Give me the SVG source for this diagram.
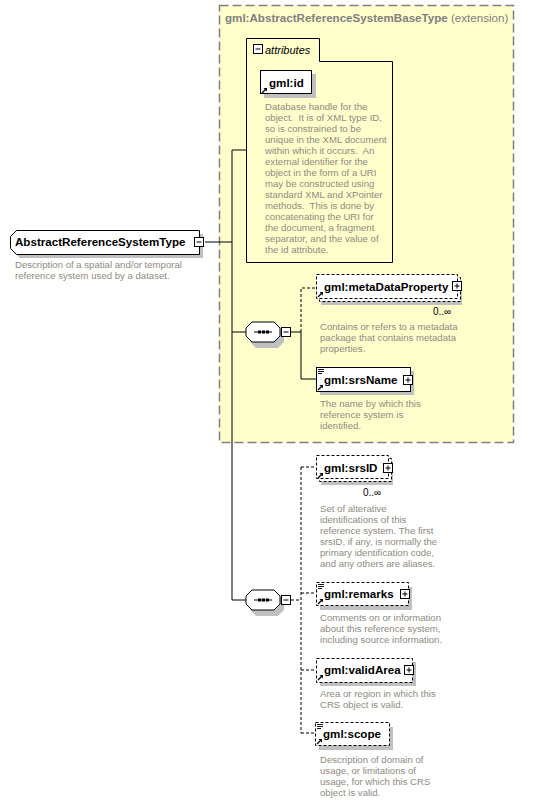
<svg xmlns="http://www.w3.org/2000/svg" width="555" height="802" viewBox="0 0 555 802">
<defs>
<style>
.t{font-family:"Liberation Sans",Arial,sans-serif;font-size:11.6px;font-weight:bold;fill:#000}
.d{font-family:"Liberation Sans",Arial,sans-serif;font-size:9.6px;fill:#8f8a80;white-space:pre}
.m{font-family:"Liberation Sans",Arial,sans-serif;font-size:10px;fill:#000}
.sh{fill:#c0c0c0;stroke:none}
.box{fill:#fff;stroke:#000;stroke-width:1}
.opt{fill:#fff;stroke:#000;stroke-width:1;stroke-dasharray:3,2}
.ln{stroke:#000;stroke-width:1;fill:none}
.dl{stroke:#000;stroke-width:1;fill:none;stroke-dasharray:3,2}
.pm{fill:#fff;stroke:#000;stroke-width:1}
</style>
<g id="plus"><rect class="pm" x="0.5" y="0.5" width="9" height="9"/><path d="M2.5 5H7.5M5 2.5V7.5" stroke="#000" stroke-width="1"/></g>
<g id="minus"><rect class="pm" x="0.5" y="0.5" width="9" height="9"/><path d="M2.5 5H7.5" stroke="#000" stroke-width="1"/></g>
<g id="ref"><path d="M0 6L4 2" stroke="#000" stroke-width="1.3"/><path d="M1.5 1H5V4.5Z" fill="#000"/></g>
<g id="lines"><path d="M0 0.5H6M0 2.5H6M0 4.5H4" stroke="#000" stroke-width="0.9"/></g>
<g id="seq">
<polygon class="sh" points="4,11 10,5 32,5 38,11 38,20 32,26 10,26 4,20"/>
<polygon class="box" points="0,6 6,0 28,0 34,6 34,14 28,20 6,20 0,14"/>
<path d="M8 10H26" stroke="#000" stroke-width="1"/>
<rect x="12" y="8.5" width="3" height="3" fill="#000"/><rect x="16" y="8.5" width="3" height="3" fill="#000"/><rect x="20" y="8.5" width="3" height="3" fill="#000"/>
</g>
</defs>
<rect width="555" height="802" fill="#fff"/>

<g id="extension">
<rect x="219.5" y="5.5" width="294" height="437" fill="#ffffcc" stroke="#808080" stroke-width="1.5" stroke-dasharray="9,4"/>
<text x="225" y="22" class="t" style="fill:#808080">gml:AbstractReferenceSystemBaseType <tspan style="font-weight:normal">(extension)</tspan></text>
</g>

<g id="connectors">
<path class="ln" d="M205 242H232M232 150V600M232 150H246M232 332H246M232 600H246"/>
<path class="ln" d="M291 332H301V379H316"/>
<path class="dl" d="M301 332V288H316"/>
<path class="dl" d="M291 600H301M301 467V733M301 467H316M301 593H316M301 670H316M301 733H316"/>
</g>

<g id="main">
<polygon class="sh" points="14,240 20,234 203,234 203,258 20,258 14,252"/>
<polygon class="box" points="10.5,236.5 16.5,230.5 199.5,230.5 199.5,254.5 16.5,254.5 10.5,248.5"/>
<text x="15" y="246" class="t">AbstractReferenceSystemType</text>
<use href="#minus" x="194" y="237"/>
<text x="15" y="268" class="d">Description of a spatial and/or temporal</text>
<text x="15" y="279" class="d">reference system used by a dataset.</text>
</g>

<g id="attributes">
<path d="M246.5 38.5H319.5V61.5H392.5V262.5H246.5Z" fill="none" stroke="#000" stroke-width="1"/>
<use href="#minus" x="253" y="44"/>
<text x="265" y="54" style="font-family:'Liberation Sans',Arial,sans-serif;font-size:11px;font-style:italic">attributes</text>
</g>

<g id="gml_id">
<rect class="sh" x="264" y="74" width="52" height="24"/>
<rect class="box" x="260.5" y="70.5" width="51" height="23"/>
<text x="269" y="87" class="t">gml:id</text>
<use href="#ref" x="262" y="87"/>
<text class="d"><tspan x="265" y="110">Database handle for the</tspan><tspan x="265" y="121">object.  It is of XML type ID,</tspan><tspan x="265" y="132">so is constrained to be</tspan><tspan x="265" y="143">unique in the XML document</tspan><tspan x="265" y="154">within which it occurs.  An</tspan><tspan x="265" y="165">external identifier for the</tspan><tspan x="265" y="176">object in the form of a URI</tspan><tspan x="265" y="187">may be constructed using</tspan><tspan x="265" y="198">standard XML and XPointer</tspan><tspan x="265" y="209">methods.  This is done by</tspan><tspan x="265" y="220">concatenating the URI for</tspan><tspan x="265" y="231">the document, a fragment</tspan><tspan x="265" y="242">separator, and the value of</tspan><tspan x="265" y="253">the id attribute.</tspan></text>
</g>

<g id="seq1">
<use href="#seq" x="246" y="322"/>
<use href="#minus" x="281" y="327"/>
</g>

<g id="metaDataProperty">
<rect class="sh" x="321" y="280" width="141" height="25"/>
<rect class="opt" x="319.5" y="277.5" width="141" height="24"/>
<rect class="opt" x="316.5" y="274.5" width="141" height="24"/>
<text x="324" y="291" class="t">gml:metaDataProperty</text>
<use href="#ref" x="318" y="291"/>
<use href="#plus" x="452" y="281"/>
<text x="433" y="315" class="m">0..∞</text>
<text class="d"><tspan x="320" y="330">Contains or refers to a metadata</tspan><tspan x="320" y="341">package that contains metadata</tspan><tspan x="320" y="352">properties.</tspan></text>
</g>

<g id="srsName">
<rect class="sh" x="320" y="371" width="94" height="24"/>
<rect class="box" x="316.5" y="367.5" width="94" height="24"/>
<use href="#lines" x="318" y="369"/>
<text x="324" y="384" class="t">gml:srsName</text>
<use href="#ref" x="318" y="384"/>
<use href="#plus" x="403" y="375"/>
<text class="d"><tspan x="320" y="407">The name by which this</tspan><tspan x="320" y="418">reference system is</tspan><tspan x="320" y="429">identified.</tspan></text>
</g>

<g id="seq2">
<use href="#seq" x="246" y="590"/>
<use href="#minus" x="281" y="595"/>
</g>

<g id="srsID">
<rect class="sh" x="321" y="461" width="72" height="24"/>
<rect class="opt" x="319.5" y="458.5" width="72" height="23"/>
<rect class="opt" x="316.5" y="455.5" width="72" height="23"/>
<text x="324" y="472" class="t">gml:srsID</text>
<use href="#ref" x="318" y="472"/>
<use href="#plus" x="383" y="463"/>
<text x="363" y="496" class="m">0..∞</text>
<text class="d"><tspan x="320" y="512">Set of alterative</tspan><tspan x="320" y="523">identifications of this</tspan><tspan x="320" y="534">reference system. The first</tspan><tspan x="320" y="545">srsID, if any, is normally the</tspan><tspan x="320" y="556">primary identification code,</tspan><tspan x="320" y="567">and any others are aliases.</tspan></text>
</g>

<g id="remarks">
<rect class="sh" x="320" y="587" width="92" height="23"/>
<rect class="opt" x="316.5" y="582.5" width="92" height="23"/>
<use href="#lines" x="318" y="584"/>
<text x="324" y="598" class="t">gml:remarks</text>
<use href="#ref" x="318" y="598"/>
<use href="#plus" x="400" y="589"/>
<text class="d"><tspan x="320" y="621">Comments on or information</tspan><tspan x="320" y="632">about this reference system,</tspan><tspan x="320" y="643">including source information.</tspan></text>
</g>

<g id="validArea">
<rect class="sh" x="320" y="662" width="96" height="24"/>
<rect class="opt" x="316.5" y="658.5" width="96" height="24"/>
<text x="324" y="674" class="t">gml:validArea</text>
<use href="#ref" x="318" y="674"/>
<use href="#plus" x="404" y="665"/>
<text class="d"><tspan x="320" y="697">Area or region in which this</tspan><tspan x="320" y="708">CRS object is valid.</tspan></text>
</g>

<g id="scope">
<rect class="sh" x="319" y="727" width="74" height="23"/>
<rect class="opt" x="315.5" y="722.5" width="74" height="23"/>
<use href="#lines" x="317" y="724"/>
<text x="323" y="738" class="t">gml:scope</text>
<use href="#ref" x="317" y="738"/>
<text class="d"><tspan x="320" y="763">Description of domain of</tspan><tspan x="320" y="774">usage, or limitations of</tspan><tspan x="320" y="785">usage, for which this CRS</tspan><tspan x="320" y="796">object is valid.</tspan></text>
</g>
</svg>
